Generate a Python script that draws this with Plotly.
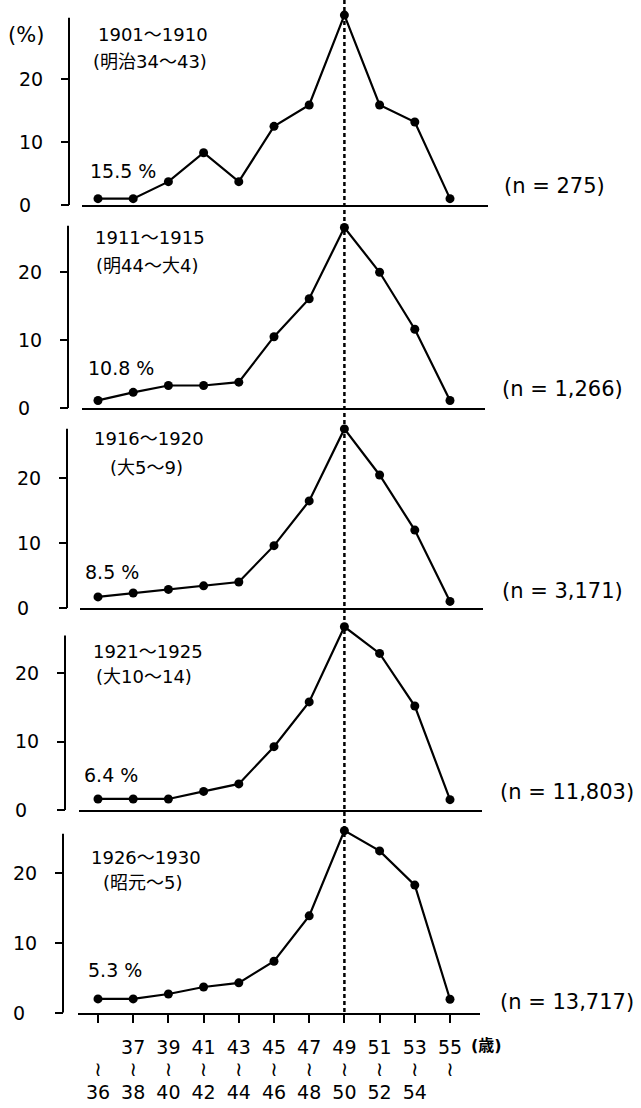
import plotly.graph_objects as go
import numpy as np

# ---------------- data ----------------
age_bins = ["~36", "37~38", "39~40", "41~42", "43~44", "45~46",
            "47~48", "49~50", "51~52", "53~54", "55~"]
tick_top = ["", "37", "39", "41", "43", "45", "47", "49", "51", "53", "55"]
tick_mid = ["≀"] * 11
tick_bottom = ["36", "38", "40", "42", "44", "46", "48", "50", "52", "54", ""]

cohorts = ["1901～1910", "1911～1915", "1916～1920", "1921～1925", "1926～1930"]
eras = ["(明治34～43)", "(明44～大4)", "(大5～9)", "(大10～14)", "(昭元～5)"]
early_pct = ["15.5 %", "10.8 %", "8.5 %", "6.4 %", "5.3 %"]
n_labels = ["(n = 275)", "(n = 1,266)", "(n = 3,171)", "(n = 11,803)", "(n = 13,717)"]

pct_1901 = [1.0, 1.0, 3.7, 8.3, 3.7, 12.5, 15.9, 30.2, 15.9, 13.2, 1.0]
pct_1911 = [1.1, 2.3, 3.3, 3.3, 3.8, 10.5, 16.1, 26.6, 20.0, 11.6, 1.1]
pct_1916 = [1.7, 2.3, 2.85, 3.4, 4.0, 9.6, 16.5, 27.6, 20.5, 12.0, 1.0]
pct_1921 = [1.6, 1.6, 1.6, 2.7, 3.8, 9.25, 15.8, 26.8, 22.9, 15.2, 1.5]
pct_1926 = [2.0, 2.0, 2.7, 3.7, 4.3, 7.4, 13.9, 26.1, 23.2, 18.3, 1.95]
series = [pct_1901, pct_1911, pct_1916, pct_1921, pct_1926]

y_tickvals = [0, 10, 20]
y_ticktext = ["0\u2007", "10", "20"]

# ---------------- layout geometry (pixels) ----------------
W, H = 641, 1108
y0_px = [207, 412, 614, 818, 1023]       # baseline (value 0)
ytop_px = [18, 228, 433, 642, 842]       # top of the drawn y axis line
ppu = [6.35, 6.85, 6.55, 6.9, 7.05]      # pixels per percent
yaxis_x = [69, 68, 67, 65, 63]
base_x0 = [82, 82, 80, 79, 78]
base_x1 = [488, 485, 483, 482, 480]
X0_PX, STEP_PX = 98.0, 35.2              # pixel of first bin, pixels per bin

cohort_cx = [153, 150, 149, 148, 146]
cohort_cy = [35, 240, 443, 658, 866]
era_cx = [150, 147, 146, 144, 143]
era_cy = [62, 268, 472, 683, 891]
pct_lx = [88, 86, 83, 82, 86]
pct_cy = [173, 372, 578, 783, 980]
n_lx = [502, 500, 500, 498, 498]
n_cy = [188, 393, 597, 800, 1012]

FONT = "DejaVu Sans, Noto Sans CJK JP, sans-serif"


def px(x):
    return x / W


def py(y):
    return 1 - y / H


fig = go.Figure()
x_idx = list(range(len(age_bins)))
shapes = []

for k, vals in enumerate(series):
    sfx = "" if k == 0 else str(k + 1)
    fig.add_trace(go.Scatter(
        x=x_idx, y=vals, mode="lines+markers",
        xaxis="x" + sfx, yaxis="y" + sfx,
        line=dict(color="black", width=2.2),
        marker=dict(size=9, color="black"),
        cliponaxis=False, showlegend=False, hoverinfo="skip",
        customdata=age_bins,
    ))
    r_line = (y0_px[k] - ytop_px[k]) / ppu[k]
    r_top = max(r_line, max(vals) + 2.0)
    top_px = y0_px[k] - r_top * ppu[k]
    xr = [(base_x0[k] - X0_PX) / STEP_PX, (base_x1[k] - X0_PX) / STEP_PX]
    last = (k == len(series) - 1)
    fig.layout["xaxis" + sfx] = dict(
        domain=[px(base_x0[k]), px(base_x1[k])], range=xr,
        anchor="y" + sfx, showline=True, linecolor="black", linewidth=2,
        showgrid=False, zeroline=False, fixedrange=True,
        tickvals=x_idx, ticktext=tick_top,
        showticklabels=last, ticks="outside" if last else "",
        ticklen=8, tickwidth=2, tickcolor="black", ticklabelstandoff=8,
        tickfont=dict(family=FONT, size=19, color="black"),
    )
    fig.layout["yaxis" + sfx] = dict(
        domain=[py(y0_px[k]), py(top_px)], range=[0, r_top],
        anchor="free", position=px(yaxis_x[k]),
        showline=False, showgrid=False, zeroline=False, fixedrange=True,
        tickvals=y_tickvals, ticktext=y_ticktext,
        ticks="outside", ticklen=8, tickwidth=2, tickcolor="black",
        ticklabelstandoff=14,
        tickfont=dict(family=FONT, size=19, color="black"),
    )
    # visible y axis line from 0 up to its drawn top
    shapes.append(dict(type="line", xref="paper", yref="y" + sfx,
                       x0=px(yaxis_x[k]), x1=px(yaxis_x[k]), y0=0, y1=r_line,
                       line=dict(color="black", width=2)))

# second and third rows of the age labels on the bottom panel (overlaying axes)
xr5 = list(fig.layout.xaxis5.range)
for name, texts, size, standoff in (("xaxis6", tick_mid, 20, 42), ("xaxis7", tick_bottom, 19, 66)):
    fig.layout[name] = dict(
        overlaying="x5", anchor="y5", range=xr5, fixedrange=True,
        showline=False, showgrid=False, zeroline=False, ticks="",
        tickvals=x_idx, ticktext=texts, ticklabelstandoff=standoff,
        tickfont=dict(family=FONT, size=size, color="black"),
    )
# invisible traces so the extra label axes are drawn
for ax in ("x6", "x7"):
    fig.add_trace(go.Scatter(x=x_idx, y=[None] * len(x_idx), xaxis=ax, yaxis="y5",
                             mode="markers", showlegend=False, hoverinfo="skip"))

# dashed reference line at the peak bin (same for all cohorts)
peak_idx = int(np.argmax(series[0]))
xd = px(X0_PX + STEP_PX * peak_idx)
shapes.append(dict(type="line", xref="paper", yref="paper",
                   x0=xd, x1=xd, y0=py(0), y1=py(y0_px[-1]),
                   line=dict(color="black", width=2.5, dash="4px,3px"), layer="below"))

ann = []
for k in range(5):
    ann.append(dict(text=cohorts[k], x=px(cohort_cx[k]), y=py(cohort_cy[k]), xref="paper", yref="paper",
                    xanchor="center", yanchor="middle", showarrow=False,
                    font=dict(family=FONT, size=18, color="black")))
    ann.append(dict(text=eras[k], x=px(era_cx[k]), y=py(era_cy[k]), xref="paper", yref="paper",
                    xanchor="center", yanchor="middle", showarrow=False,
                    font=dict(family=FONT, size=18, color="black")))
    ann.append(dict(text=early_pct[k], x=px(pct_lx[k]), y=py(pct_cy[k]), xref="paper", yref="paper",
                    xanchor="left", yanchor="middle", showarrow=False,
                    font=dict(family=FONT, size=19, color="black")))
    ann.append(dict(text=n_labels[k], x=px(n_lx[k]), y=py(n_cy[k]), xref="paper", yref="paper",
                    xanchor="left", yanchor="middle", showarrow=False,
                    font=dict(family=FONT, size=21, color="black")))
ann.append(dict(text="(%)", x=px(6), y=py(35), xref="paper", yref="paper",
                xanchor="left", yanchor="middle", showarrow=False,
                font=dict(family=FONT, size=21, color="black")))
ann.append(dict(text="<b>(歳)</b>", x=px(486), y=py(1056), xref="paper", yref="paper",
                xanchor="center", yanchor="middle", showarrow=False,
                font=dict(family=FONT, size=16, color="black")))

fig.update_layout(
    width=W, height=H, margin=dict(l=0, r=0, t=0, b=0),
    paper_bgcolor="white", plot_bgcolor="rgba(0,0,0,0)",
    shapes=shapes, annotations=ann, showlegend=False,
)

fig.write_html("out.html")
